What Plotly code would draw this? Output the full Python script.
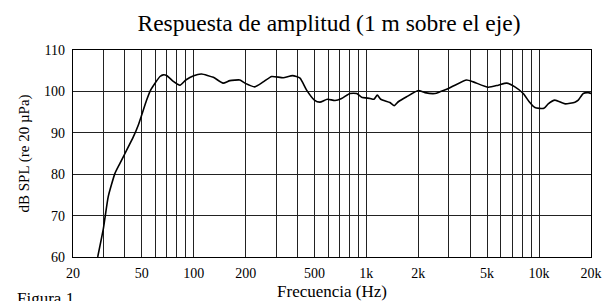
import plotly.graph_objects as go

# Frequency response data
freq_hz = [27.8, 30, 32, 35, 37.4, 40, 44.7, 47.8, 50, 53.4, 56.3, 60, 63.8, 66.7, 70,
           76.2, 83.3, 90, 100, 111, 130, 148, 162, 185, 198, 226, 253, 283, 330,
           374, 413, 451, 500, 538, 594, 658, 719, 803, 879, 939, 1049, 1106, 1157,
           1211, 1370, 1450, 1531, 1711, 2000, 2184, 2496, 2668, 2917, 3184, 3809,
           4160, 5082, 5805, 6489, 7249, 8101, 8772, 9466, 10670, 11300, 12360,
           14130, 16140, 16880, 18040, 19270, 20000]
spl_db = [60.0, 66.9, 74.6, 80.2, 82.6, 85.0, 89.0, 91.9, 94.3, 97.9, 100.3, 102.1, 103.6, 104.0, 103.8,
          102.4, 101.5, 102.75, 103.8, 104.2, 103.4, 102.0, 102.6, 102.75, 102.0, 101.1, 102.3, 103.6, 103.3,
          103.8, 103.2, 100.3, 97.9, 97.4, 98.1, 97.8, 98.3, 99.5, 99.5, 98.6, 98.3, 98.1, 99.1,
          98.1, 97.3, 96.55, 97.5, 98.7, 100.2, 99.7, 99.5, 99.9, 100.5, 101.3, 102.75,
          102.3, 101.0, 101.5, 102.0, 101.1, 99.5, 97.5, 96.1, 95.9, 97.0, 97.9,
          97.0, 97.4, 97.9, 99.5, 99.7, 99.5]

grid_freqs = [20, 30, 40, 50, 60, 70, 80, 90, 100, 200, 300, 400, 500, 600, 700, 800, 900,
              1000, 2000, 3000, 4000, 5000, 6000, 7000, 8000, 9000, 10000, 20000]
labeled = {20: "20", 50: "50", 100: "100", 200: "200", 500: "500", 1000: "1k",
           2000: "2k", 5000: "5k", 10000: "10k", 20000: "20k"}
x_ticktext = [labeled.get(f, "") for f in grid_freqs]
y_ticks = [60, 70, 80, 90, 100, 110]

FONT = "Times New Roman, Liberation Serif, serif"

fig = go.Figure()
fig.add_trace(go.Scatter(x=freq_hz, y=spl_db, mode="lines",
                         line=dict(color="black", width=1.6, shape="spline", smoothing=0.5),
                         hoverinfo="skip", showlegend=False))

fig.update_layout(
    width=603, height=301,
    margin=dict(l=73, r=12, t=50, b=44, autoexpand=False),
    paper_bgcolor="white", plot_bgcolor="white",
    font=dict(family=FONT, color="black", size=14),
    title=dict(text="Respuesta de amplitud (1 m sobre el eje)",
               font=dict(family=FONT, size=23.5, color="black"),
               x=329 / 603, xanchor="center", xref="container",
               y=1 - 23 / 301, yanchor="middle", yref="container"),
    showlegend=False,
)
fig.update_xaxes(type="log", range=[1.30103, 4.30103], automargin=False,
                 tickmode="array", tickvals=grid_freqs, ticktext=x_ticktext,
                 showgrid=True, gridcolor="#222", gridwidth=1,
                 showline=True, linecolor="black", linewidth=1.2, mirror=True,
                 ticks="", ticklabelstandoff=3,
                 tickfont=dict(family=FONT, size=14, color="black"),
                 title=dict(text="Frecuencia (Hz)", font=dict(family=FONT, size=17, color="black"),
                            standoff=6),
                 zeroline=False)
fig.update_yaxes(range=[60, 110], automargin=False, tickmode="array", tickvals=y_ticks,
                 showgrid=True, gridcolor="#222", gridwidth=1,
                 showline=True, linecolor="black", linewidth=1.2, mirror=True,
                 ticks="", ticklabelstandoff=4,
                 tickfont=dict(family=FONT, size=14, color="black"),
                 title=dict(text="dB SPL (re 20 µPa)", font=dict(family=FONT, size=15, color="black"),
                            standoff=10),
                 zeroline=False)

fig.add_annotation(text="Figura 1", xref="paper", yref="paper",
                   x=(15 - 73) / 518, y=(257 - 298) / 207, xanchor="left", yanchor="middle",
                   showarrow=False, font=dict(family=FONT, size=17, color="black"))

fig.write_html("out.html", config={"displayModeBar": False},
               post_script="document.body.style.margin='0';document.body.style.overflow='hidden';")
